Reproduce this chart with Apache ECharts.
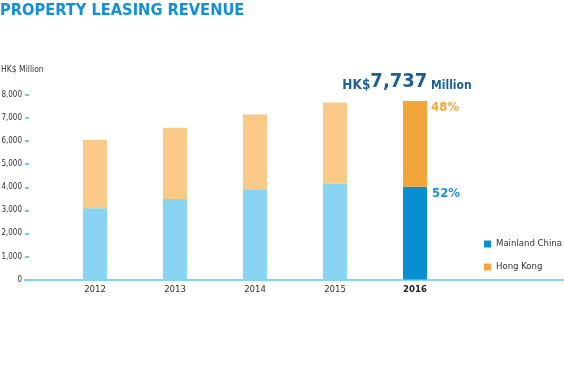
<!DOCTYPE html>
<html><head><meta charset="utf-8">
<script src="https://cdn.jsdelivr.net/npm/echarts@6/dist/echarts.min.js"></script>
<style>html,body{margin:0;padding:0;background:#fff}#c{width:564px;height:386px}</style>
</head><body><div id="c"></div>
<script>
const years = ['2012', '2013', '2014', '2015', '2016'];
const mainland = [3090, 3490, 3880, 4150, 4023];
const hongKong = [2960, 3090, 3270, 3530, 3714];
const yTicks = ['0', '1,000', '2,000', '3,000', '4,000', '5,000', '6,000', '7,000', '8,000'];
const totalLabel = '7,737';
const shareLabels = { mainland: '52%', hongKong: '48%' };

const FONT = '"DejaVu Sans Condensed", "Liberation Sans Narrow", "Liberation Sans", sans-serif';
const last = years.length - 1;
const C = { mlLight: '#8ad4f3', hkLight: '#f8c987', ml: '#0a8ed2', hk: '#f2a63a', axis: '#8ad4f3' };

function build(vals, light, dark) {
  return vals.map((v, i) => ({ value: v, itemStyle: { color: i === last ? dark : light } }));
}

const mlData = build(mainland, C.mlLight, C.ml);
mlData[last].label = {
  show: true, position: ['100%', 0], offset: [5, 0], align: 'left', verticalAlign: 'top',
  formatter: shareLabels.mainland, color: '#1d8fd3', fontSize: 13, fontWeight: 'bold', fontFamily: FONT
};
const hkData = build(hongKong, C.hkLight, C.hk);
hkData[last].label = {
  show: true, position: 'top', distance: 9, offset: [-8, 0],
  formatter: '{a|HK$}{b|' + totalLabel + '}{c| Million}',
  rich: {
    a: { fontSize: 13.5, fontWeight: 'bold', color: '#1f5f94', fontFamily: FONT, verticalAlign: 'bottom' },
    b: { fontSize: 20, fontWeight: 'bold', color: '#1f5f94', fontFamily: FONT, verticalAlign: 'bottom' },
    c: { fontSize: 12, fontWeight: 'bold', color: '#1f5f94', fontFamily: FONT, verticalAlign: 'bottom' }
  }
};

const chart = echarts.init(document.getElementById('c'), null, { renderer: 'canvas' });
chart.setOption({
  animation: false,
  textStyle: { fontFamily: FONT },
  title: {
    text: 'PROPERTY LEASING REVENUE', left: -5, top: -2,
    textStyle: { fontSize: 16.3, fontWeight: 'bold', color: '#1290d6', fontFamily: FONT }
  },
  graphic: [{
    type: 'text', left: 1, top: 65,
    style: { text: 'HK$ Million', fontSize: 8.5, fill: '#333', fontFamily: FONT }
  }],
  legend: {
    orient: 'vertical', left: 479, top: 234, itemWidth: 7, itemHeight: 7, itemGap: 13,
    icon: 'rect', textStyle: { fontSize: 9.5, color: '#333', fontFamily: FONT },
    data: [
      { name: 'Mainland China', itemStyle: { color: C.ml } },
      { name: 'Hong Kong', itemStyle: { color: C.hk } }
    ]
  },
  grid: [
    { left: 55, right: 109, top: 95, bottom: 106.5, outerBoundsMode: 'none', containLabel: false },
    { left: 25, right: 0, top: 95, bottom: 106.5, outerBoundsMode: 'none', containLabel: false }
  ],
  xAxis: [
    {
      type: 'category', data: years, gridIndex: 0,
      axisLine: { show: false }, axisTick: { show: false },
      axisLabel: {
        margin: 5, fontSize: 9.5, color: '#333', fontFamily: FONT,
        formatter: (v, i) => i === last ? '{b|' + v + '}' : v,
        rich: { b: { fontWeight: 'bold', fontSize: 9.5, color: '#222', fontFamily: FONT } }
      }
    },
    {
      type: 'value', gridIndex: 1, min: 0, max: 1,
      axisLine: { show: true, lineStyle: { color: C.axis, width: 2 } },
      axisTick: { show: false }, axisLabel: { show: false }, splitLine: { show: false }
    }
  ],
  yAxis: [
    { type: 'value', gridIndex: 0, min: 0, max: 8000, interval: 1000, show: false },
    {
      type: 'value', gridIndex: 1, min: 0, max: 8000, interval: 1000,
      axisLine: { show: false },
      axisTick: { show: true, inside: true, length: 4, lineStyle: { color: '#6cc8f0', width: 2 } },
      splitLine: { show: false },
      axisLabel: {
        margin: 3, fontSize: 8, color: '#333', fontFamily: FONT,
        formatter: (v) => yTicks[Math.round(v / 1000)]
      }
    }
  ],
  series: [
    { name: 'Mainland China', type: 'bar', stack: 'a', xAxisIndex: 0, yAxisIndex: 0, barWidth: 24,
      itemStyle: { color: C.ml }, data: mlData },
    { name: 'Hong Kong', type: 'bar', stack: 'a', xAxisIndex: 0, yAxisIndex: 0, barWidth: 24,
      itemStyle: { color: C.hk }, data: hkData,
      markPoint: {
        symbol: 'rect', symbolSize: 0,
        data: [{ coord: [last, mainland[last] + hongKong[last]], value: shareLabels.hongKong }],
        label: {
          show: true, position: 'right', offset: [11, 7],
          formatter: shareLabels.hongKong, color: '#f2a63a', fontSize: 13, fontWeight: 'bold', fontFamily: FONT
        }
      }
    }
  ]
});
</script></body></html>
